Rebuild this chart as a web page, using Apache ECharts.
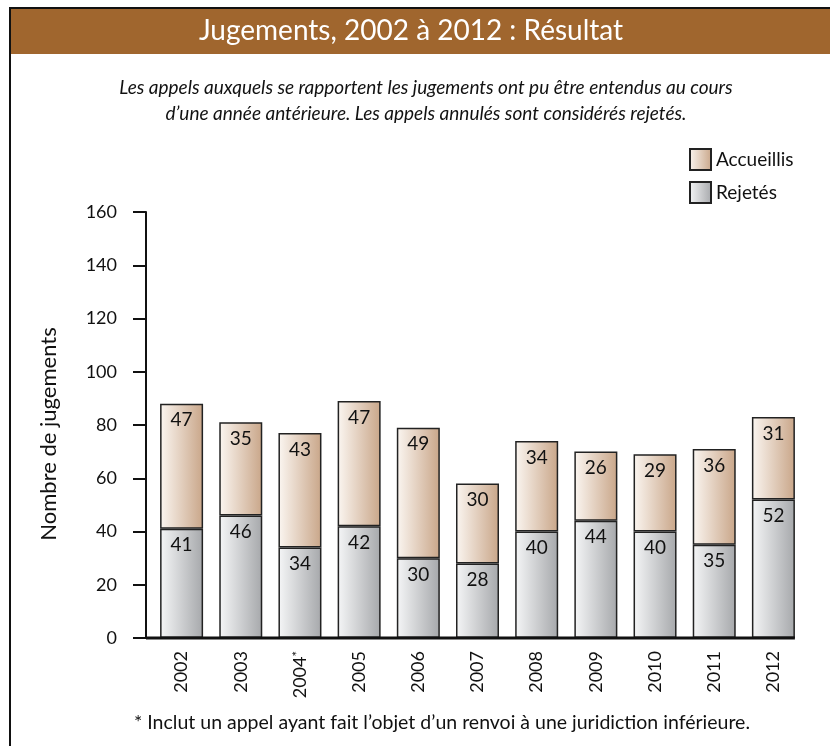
<!DOCTYPE html>
<html>
<head>
<meta charset="utf-8">
<script src="https://cdn.jsdelivr.net/npm/echarts@6/dist/echarts.min.js"></script>
<style>
html,body{margin:0;padding:0;background:#fff;}
#c{width:830px;height:746px;}
</style>
</head>
<body>
<div id="c"></div>
<script>
const years = ['2002','2003','2004','2005','2006','2007','2008','2009','2010','2011','2012'];
const footnotedYears = ['2004'];
const rejetes = [41,46,34,42,30,28,40,44,40,35,52];
const accueillis = [47,35,43,47,49,30,34,26,29,36,31];
const yTicks = {min:0, max:160, interval:20};

const FONT = 'Lato';
const chart = echarts.init(document.getElementById('c'), null, {renderer:'canvas'});

function grad(c0, c1){
  return new echarts.graphic.LinearGradient(0,0,1,0,[{offset:0,color:c0},{offset:1,color:c1}]);
}
const accColor = grad('#fbf6f1', '#c9a689');
const rejColor = grad('#f5f6f7', '#a6a8ab');

const labelStyle = {show:true, position:'insideTop', distance:7, color:'#111', fontFamily:FONT, fontSize:19};

const baseGraphic = [
  {type:'rect', shape:{x:10,y:8,width:850,height:800}, style:{fill:'none', stroke:'#111', lineWidth:2}, z:1},
  {type:'rect', shape:{x:11,y:9,width:830,height:45}, style:{fill:'#a0662e'}, z:2},
  {type:'text', x:411, y:17, style:{text:'Jugements, 2002 à 2012 : Résultat', fill:'#fff', fontFamily:FONT, fontSize:28, textAlign:'center'}, z:3},
  {type:'text', x:426, y:75, style:{text:'Les appels auxquels se rapportent les jugements ont pu être entendus au cours\nd’une année antérieure. Les appels annulés sont considérés rejetés.', fill:'#111', fontFamily:FONT, fontStyle:'italic', fontSize:19, textAlign:'center', lineHeight:26}, z:3},
  {type:'text', x:442, y:713, style:{text:'* Inclut un appel ayant fait l’objet d’un renvoi à une juridiction inférieure.', fill:'#111', fontFamily:FONT, fontSize:19.5, textAlign:'center'}, z:3}
];

chart.setOption({
  animation:false,
  textStyle:{fontFamily:FONT},
  graphic:baseGraphic,
  legend:{
    orient:'vertical', left:684, top:143, itemWidth:21, itemHeight:21, itemGap:10,
    data:['Accueillis','Rejetés'],
    textStyle:{fontFamily:FONT, fontSize:19, color:'#111'},
    icon:'rect'
  },
  grid:{left:152, right:27, top:212, bottom:108},
  xAxis:{
    type:'category', data:years,
    axisLine:{show:false}, axisTick:{show:false},
    axisLabel:{
      rotate:90, margin:13, color:'#111', fontFamily:FONT, fontSize:18,
      formatter:v => footnotedYears.includes(v) ? v+'{s|*}' : v,
      rich:{s:{fontSize:13, fontFamily:FONT, color:'#111', verticalAlign:'top'}}
    }
  },
  yAxis:{
    type:'value', min:yTicks.min, max:yTicks.max, interval:yTicks.interval, offset:6,
    name:'Nombre de jugements', nameLocation:'middle', nameGap:86, nameRotate:90,
    nameTextStyle:{fontFamily:FONT, fontSize:22, color:'#111', padding:[0,18,0,0]},
    axisLine:{show:true, lineStyle:{color:'#111', width:2}},
    axisTick:{show:true, length:13, lineStyle:{color:'#111', width:2}},
    splitLine:{show:false},
    axisLabel:{margin:29, color:'#111', fontFamily:FONT, fontSize:18}
  },
  series:[
    {name:'Rejetés', type:'bar', stack:'t', data:rejetes, barWidth:43,
     itemStyle:{color:rejColor, borderColor:'#222', borderWidth:1.5}, label:labelStyle},
    {name:'Accueillis', type:'bar', stack:'t', data:accueillis, barWidth:43,
     itemStyle:{color:accColor, borderColor:'#222', borderWidth:1.5}, label:labelStyle}
  ]
});

// baseline (x axis line) from the y-axis line to the right edge of the last bar
const y0 = chart.convertToPixel({yAxisIndex:0}, 0);
const xLast = chart.convertToPixel({xAxisIndex:0}, years.length-1);
chart.setOption({graphic:baseGraphic.map(()=>({})).concat([{type:'line', shape:{x1:146, y1:y0, x2:xLast+21.5, y2:y0}, style:{stroke:'#111', lineWidth:3}, z:10}])});
</script>
</body>
</html>
